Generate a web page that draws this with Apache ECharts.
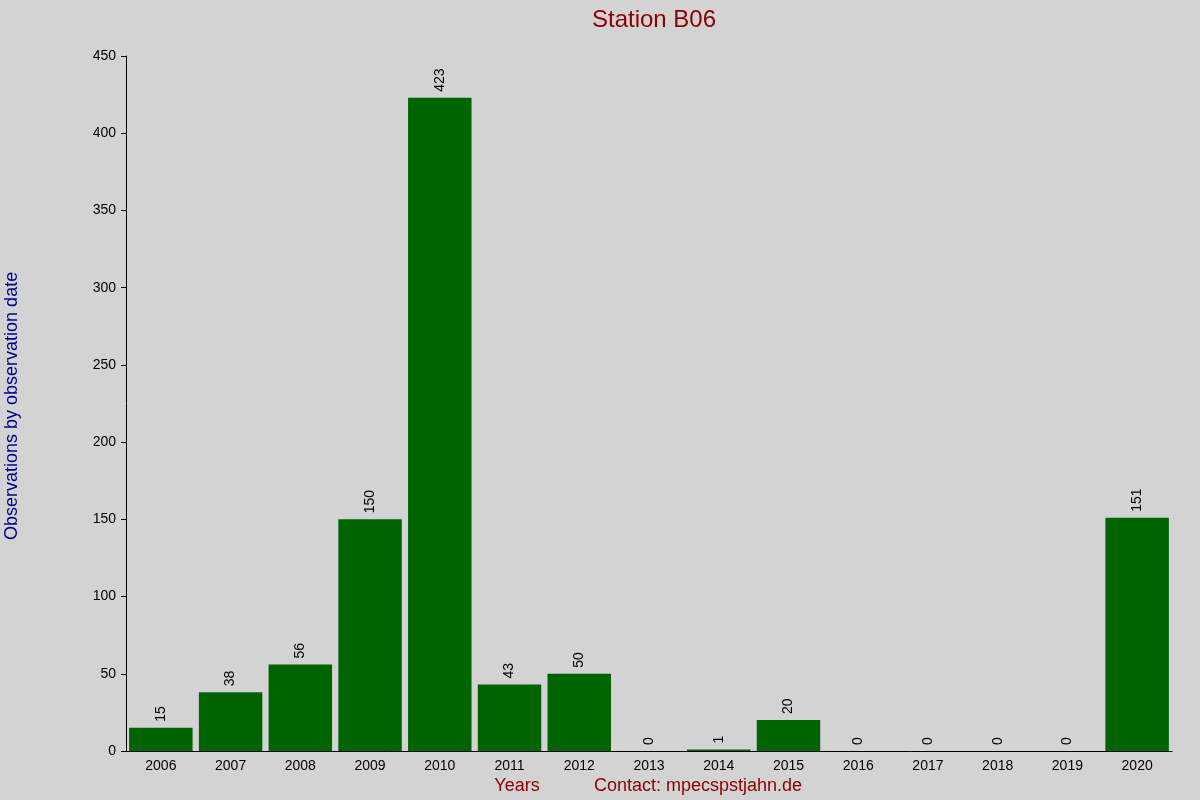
<!DOCTYPE html>
<html><head><meta charset="utf-8">
<script src="https://cdn.jsdelivr.net/npm/echarts@6/dist/echarts.min.js"></script>
<style>html,body{margin:0;padding:0;background:#d3d3d3}#c{width:1200px;height:800px}</style>
</head><body><div id="c"></div>
<script>
const years = ['2006','2007','2008','2009','2010','2011','2012','2013','2014','2015','2016','2017','2018','2019','2020'];
const counts = [15,38,56,150,423,43,50,0,1,20,0,0,0,0,151];
const yTicks = [0,50,100,150,200,250,300,350,400,450];

const chart = echarts.init(document.getElementById('c'));
chart.setOption({
  backgroundColor:'#d3d3d3',
  animation:false,
  title:{text:'Station B06',left:'center',left:649,textAlign:'center',top:3,textStyle:{color:'#8b0000',fontSize:24,fontWeight:'normal',fontFamily:'Liberation Sans'}},
  grid:{left:126,right:28,top:56,bottom:49},
  xAxis:{type:'category',data:years,
    axisLine:{lineStyle:{color:'#000'}},axisTick:{show:false},
    axisLabel:{color:'#000',fontSize:14,fontFamily:'Liberation Sans',margin:8},
    splitLine:{show:false}},
  yAxis:{type:'value',min:0,max:450,interval:50,
    axisLine:{show:true,lineStyle:{color:'#000'}},axisTick:{show:true,length:5,lineStyle:{color:'#000'}},
    axisLabel:{color:'#000',fontSize:14,fontFamily:'Liberation Sans',margin:10},
    splitLine:{show:false}},
  series:[{type:'bar',data:counts,barCategoryGap:'9%',itemStyle:{color:'#006400'},
    label:{show:true,position:'top',rotate:90,align:'left',verticalAlign:'middle',distance:6,color:'#000',fontSize:14,fontFamily:'Liberation Sans'}}],
  graphic:[
    {type:'text',left:2,top:540,rotation:Math.PI/2,style:{text:'Observations by observation date',fill:'#00008b',fontSize:18,fontFamily:'Liberation Sans'},x:3,y:540,left:null,top:null},
    {type:'text',x:517,y:786,style:{text:'Years',fill:'#8b0000',fontSize:18,fontFamily:'Liberation Sans',align:'center',verticalAlign:'middle'}},
    {type:'text',x:698,y:786,style:{text:'Contact: mpecspstjahn.de',fill:'#8b0000',fontSize:18,fontFamily:'Liberation Sans',align:'center',verticalAlign:'middle'}}
  ]
});
</script></body></html>
